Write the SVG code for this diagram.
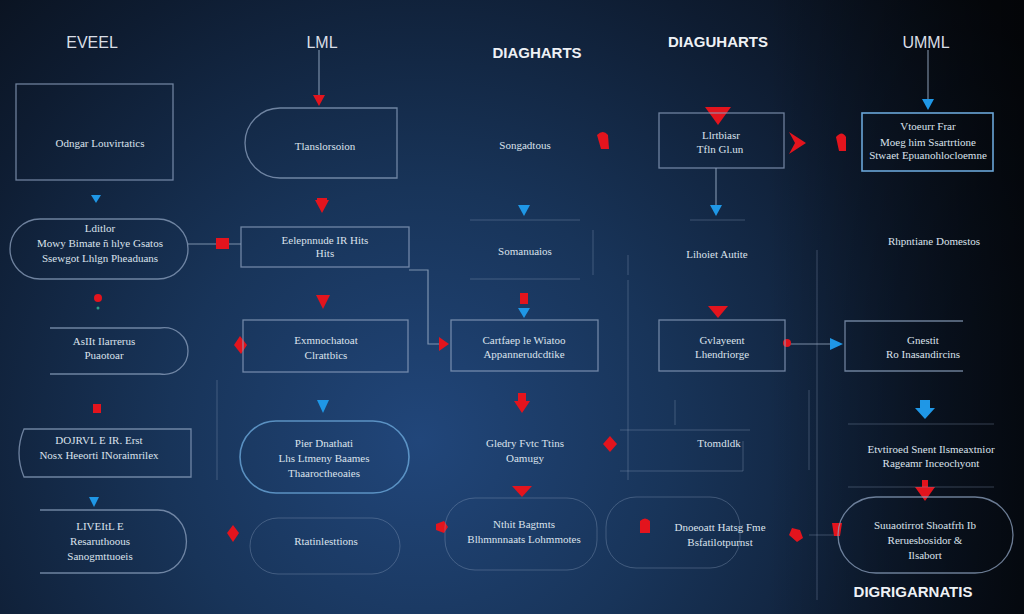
<svg xmlns="http://www.w3.org/2000/svg" width="1024" height="614" viewBox="0 0 1024 614">
<defs>
<radialGradient id="bg" cx="420" cy="440" r="720" gradientUnits="userSpaceOnUse">
<stop offset="0" stop-color="#21467a"/>
<stop offset="0.35" stop-color="#183459"/>
<stop offset="0.7" stop-color="#0e1c31"/>
<stop offset="1" stop-color="#070b12"/>
</radialGradient>
<linearGradient id="rs" x1="0" y1="0" x2="1" y2="0">
<stop offset="0.75" stop-color="#000" stop-opacity="0"/>
<stop offset="1" stop-color="#000" stop-opacity="0.55"/>
</linearGradient>
<style>
.t{font-family:"Liberation Serif",serif;font-size:11px;fill:#dbe2ec;text-anchor:middle}
.h{font-family:"Liberation Sans",sans-serif;font-size:16px;fill:#d9dee6;text-anchor:middle;font-weight:300}
.hb{font-family:"Liberation Sans",sans-serif;font-size:15px;fill:#eef1f5;text-anchor:middle;font-weight:bold}
.b{fill:none;stroke:#8ea2bf;stroke-opacity:0.75;stroke-width:1.3}
.bb{fill:none;stroke:#6aa6d8;stroke-width:1.6}
.f{fill:none;stroke:#8ea2bf;stroke-opacity:0.35;stroke-width:1}
.c{fill:none;stroke:#9eb0c8;stroke-opacity:0.75;stroke-width:1.2}
.r{fill:#e3141d}
.u{fill:#1f97e6}
</style>
</defs>
<rect width="1024" height="614" fill="url(#bg)"/>
<rect width="1024" height="614" fill="url(#rs)"/>

<g id="titles">
<text class="h" x="92" y="48">EVEEL</text>
<text class="h" x="322" y="48">LML</text>
<text class="hb" x="537" y="58">DIAGHARTS</text>
<text class="hb" x="718" y="47">DIAGUHARTS</text>
<text class="h" x="926" y="48">UMML</text>
<text class="hb" x="913" y="597">DIGRIGARNATIS</text>
</g>

<g id="connectors">
<line class="c" x1="319" y1="50" x2="319" y2="96"/>
<line class="c" x1="928" y1="50" x2="928" y2="100"/>
<line class="c" x1="716" y1="168" x2="716" y2="206"/>
<line class="c" x1="188" y1="244" x2="241" y2="244"/>
<polyline class="c" points="409,270 428,270 428,344 447,344"/>
<line class="c" x1="788" y1="344" x2="830" y2="344"/>
<line class="f" x1="628" y1="280" x2="628" y2="480"/>
<line class="f" x1="817" y1="250" x2="817" y2="600"/>
<line class="f" x1="809" y1="390" x2="809" y2="470"/>
<line class="f" x1="217" y1="380" x2="217" y2="480"/>
<line class="f" x1="809" y1="535" x2="835" y2="535"/>
<polygon class="r" points="313,95 325,95 319,106"/>
<polygon class="u" points="922,99 934,99 928,110"/>
<polygon class="r" points="705,107 731,107 718,125"/>
<path class="r" d="M597,135 q6,-6 11,0 l1,14 h-8 z"/>
<polygon class="r" points="789,132 806,143 789,154 795,143"/>
<path class="r" d="M836,137 q6,-7 10,0 l0,14 h-7 z"/>
<polygon class="u" points="91,195 101,195 96,203"/>
<polygon class="r" points="315,200 329,200 322,213"/>
<polygon class="r" points="317,198 327,198 327,202 317,202"/>
<rect class="r" x="216" y="238" width="13" height="11"/>
<polygon class="u" points="518,205 530,205 524,216"/>
<polygon class="u" points="710,205 722,205 716,216"/>
<circle class="r" cx="98" cy="298" r="4"/>
<circle fill="#2aa08a" cx="98" cy="308" r="1.5"/>
<polygon class="r" points="316,295 330,295 323,309"/>
<polygon class="r" points="240,336 247,345 241,354 234,345"/>
<polygon class="r" points="520,293 528,293 528,304 520,304"/>
<polygon class="u" points="518,308 530,308 524,318"/>
<polygon class="r" points="439,337 449,344 439,351"/>
<polygon class="r" points="708,306 728,306 718,318"/>
<circle class="r" cx="787" cy="343" r="4"/>
<polygon class="u" points="830,338 843,344 830,350"/>
<rect class="r" x="93" y="404" width="8" height="9"/>
<polygon class="u" points="317,400 329,400 323,413"/>
<polygon class="r" points="518,393 526,393 526,401 530,401 522,413 514,401 518,401"/>
<polygon class="r" points="610,436 617,444 610,452 603,444"/>
<polygon class="u" points="920,400 930,400 930,408 935,408 925,419 915,408 920,408"/>
<polygon class="u" points="89,497 99,497 94,507"/>
<polygon class="r" points="233,525 239,533 233,542 227,533"/>
<polygon class="r" points="512,486 532,486 522,497"/>
<path class="r" d="M436,524 l8,-3 4,6 -4,6 -8,-3 z"/>
<path class="r" d="M640,521 q5,-5 10,0 v12 h-10 z"/>
<polygon class="r" points="792,528 800,530 803,538 797,542 789,535"/>
<polygon class="r" points="832,523 842,523 840,536 834,536"/>
<polygon class="r" points="915,487 935,487 925,501"/>
<polygon class="r" points="922,480 928,480 928,488 922,488"/>
</g>

<g id="n1"><rect class="b" x="16" y="84" width="157" height="96"/><text class="t" x="100" y="147">Odngar Louvirtatics</text></g>
<g id="n2"><path class="b" d="M280,108 H397 V178 H280 A35,35 0 0 1 280,108 Z"/><text class="t" x="325" y="150">Tlanslorsoion</text></g>
<g id="n3"><text class="t" x="525" y="149">Songadtous</text></g>
<g id="n4"><rect class="b" x="659" y="113" width="125" height="55"/><text class="t" x="721" y="139">Llrtbiasr</text><text class="t" x="720" y="153">Tfln Gl.un</text></g>
<g id="n5"><rect class="bb" x="862" y="113" width="131" height="58"/><text class="t" x="928" y="130">Vtoeurr Frar</text><text class="t" x="928" y="146">Moeg him Ssartrtione</text><text class="t" x="928" y="159">Stwaet Epuanohlocloemne</text></g>

<g id="n6"><rect class="b" x="10" y="219" width="178" height="60" rx="30"/><text class="t" x="100" y="232">Lditlor</text><text class="t" x="100" y="247">Mowy Bimate ñ hlye Gsatos</text><text class="t" x="100" y="262">Ssewgot Lhlgn Pheaduans</text></g>
<g id="n7"><rect class="b" x="241" y="227" width="168" height="40"/><text class="t" x="325" y="244">Eelepnnude IR Hits</text><text class="t" x="325" y="257">Hits</text></g>
<g id="n8"><path class="f" d="M470,220 H580 M470,279 H580 M593,230 V275"/><text class="t" x="525" y="255">Somanuaios</text></g>
<g id="n9"><path class="f" d="M690,220 H745 M628,255 V275"/><text class="t" x="717" y="258">Lihoiet Autite</text></g>
<g id="n10"><text class="t" x="934" y="245">Rhpntiane Domestos</text></g>

<g id="n11"><path class="b" d="M50,328 H160 A24,23 0 0 1 188,351 A24,23 0 0 1 160,374 H50" stroke-opacity="0.45"/><text class="t" x="104" y="345">AsIIt Ilarrerus</text><text class="t" x="104" y="359">Puaotoar</text></g>
<g id="n12"><rect class="b" x="243" y="320" width="165" height="52"/><text class="t" x="326" y="344">Exmnochatoat</text><text class="t" x="326" y="359">Clrattbics</text></g>
<g id="n13"><rect class="b" x="451" y="320" width="147" height="51"/><text class="t" x="524" y="344">Cartfaep le Wiatoo</text><text class="t" x="524" y="358">Appannerudcdtike</text></g>
<g id="n14"><rect class="b" x="659" y="320" width="126" height="51"/><text class="t" x="722" y="344">Gvlayeent</text><text class="t" x="722" y="358">Lhendriorge</text></g>
<g id="n15"><path class="b" d="M963,321 H845 V371 H963"/><text class="t" x="923" y="344">Gnestit</text><text class="t" x="923" y="358">Ro Inasandircins</text></g>

<g id="n16"><path class="b" d="M191,429 H24 Q14,453 24,477 H191 Z"/><text class="t" x="99" y="444">DOJRVL E IR. Erst</text><text class="t" x="99" y="459">Nosx Heeorti INoraimrilex</text></g>
<g id="n17"><rect class="bb" x="240" y="421" width="169" height="72" rx="36" stroke-opacity="0.8"/><text class="t" x="324" y="447">Pier Dnathati</text><text class="t" x="324" y="462">Lhs Ltmeny Baames</text><text class="t" x="324" y="477">Thaaroctheoaies</text></g>
<g id="n18"><text class="t" x="525" y="447">Gledry Fvtc Ttins</text><text class="t" x="525" y="462">Oamugy</text></g>
<g id="n19"><path class="f" d="M620,430 H750 M620,471 H743 V441 M675,400 V425"/><text class="t" x="719" y="447">Ttomdldk</text></g>
<g id="n20"><path class="f" d="M848,424 H994 M848,487 H994"/><text class="t" x="931" y="453">Etvtiroed Snent Ilsmeaxtnior</text><text class="t" x="931" y="467">Rageamr Inceochyont</text></g>

<g id="n21"><path class="b" d="M40,510 H158 A28,31 0 0 1 158,573 H40" stroke="#6aa6d8"/><text class="t" x="100" y="530">LIVEItL E</text><text class="t" x="100" y="545">Resaruthoous</text><text class="t" x="100" y="560">Sanogmttuoeis</text></g>
<g id="n22"><rect class="f" x="250" y="518" width="150" height="56" rx="28" stroke-opacity="0.5"/><text class="t" x="326" y="545">Rtatinlesttions</text></g>
<g id="n23"><rect class="f" x="445" y="498" width="152" height="72" rx="30" stroke-opacity="0.45"/><text class="t" x="524" y="528">Nthit Bagtmts</text><text class="t" x="524" y="543">Blhmnnnaats Lohmmotes</text></g>
<g id="n24"><rect class="f" x="606" y="497" width="134" height="71" rx="30" stroke-opacity="0.45"/><text class="t" x="720" y="531">Dnoeoatt Hatsg Fme</text><text class="t" x="720" y="546">Bsfatilotpurnst</text></g>
<g id="n25"><rect class="b" x="838" y="497" width="175" height="76" rx="38" stroke-opacity="0.45"/><text class="t" x="925" y="529">Suuaotirrot Shoatfrh Ib</text><text class="t" x="925" y="544">Reruesbosidor &amp;</text><text class="t" x="925" y="559">Ilsabort</text></g>
</svg>
